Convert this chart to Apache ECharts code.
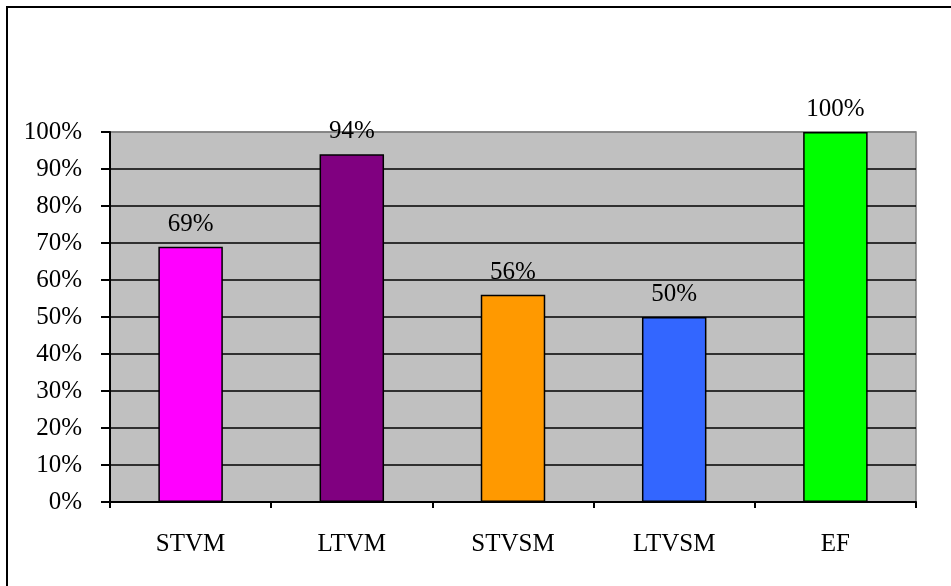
<!DOCTYPE html>
<html>
<head>
<meta charset="utf-8">
<script src="https://cdn.jsdelivr.net/npm/echarts@6/dist/echarts.min.js"></script>
<style>
  html, body { margin: 0; padding: 0; background: #fff; }
  #chart { width: 951px; height: 586px; }
</style>
</head>
<body>
<div id="chart"></div>
<script>
// Share of each method (percent)
const categories = ['STVM', 'LTVM', 'STVSM', 'LTVSM', 'EF'];
const values = [69, 94, 56, 50, 100];
const barColors = ['#FF00FF', '#800080', '#FF9900', '#3366FF', '#00FF00'];
const yTicks = { min: 0, max: 100, interval: 10 };

const font = "'Liberation Serif', 'Times New Roman', Times, serif";

// grid lines: black, except the top one which blends into the grey plot border
const splitColors = [];
for (let v = yTicks.min; v <= yTicks.max; v += yTicks.interval) {
  splitColors.push(v === yTicks.max ? '#808080' : '#000000');
}

const chart = echarts.init(document.getElementById('chart'), null, { renderer: 'canvas' });
chart.setOption({
  animation: false,
  backgroundColor: '#ffffff',
  graphic: [{
    type: 'rect',
    shape: { x: 7, y: 7, width: 2000, height: 2000 },
    style: { fill: 'none', stroke: '#000', lineWidth: 2 },
    silent: true,
    z: 100
  }],
  grid: {
    left: 110, right: 35, top: 132, bottom: 84,
    show: true,
    backgroundColor: '#C0C0C0',
    borderColor: '#808080',
    borderWidth: 1.5
  },
  xAxis: {
    type: 'category',
    data: categories,
    axisLine: { lineStyle: { color: '#000', width: 2 } },
    axisTick: { show: true, length: 6, alignWithLabel: false, lineStyle: { color: '#000', width: 2 } },
    axisLabel: { color: '#000', fontFamily: font, fontSize: 25, margin: 30 }
  },
  yAxis: {
    type: 'value',
    min: yTicks.min, max: yTicks.max, interval: yTicks.interval,
    axisLine: { show: true, lineStyle: { color: '#000', width: 2 } },
    axisTick: { show: true, length: 9, lineStyle: { color: '#000', width: 2 } },
    axisLabel: { color: '#000', fontFamily: font, fontSize: 25, margin: 28, formatter: '{value}%' },
    splitLine: { show: true, lineStyle: { color: splitColors, width: 1.5 } }
  },
  series: [{
    type: 'bar',
    data: values.map((v, i) => ({ value: v, itemStyle: { color: barColors[i] } })),
    barWidth: '40%',
    itemStyle: { borderColor: '#000', borderWidth: 1.5 },
    label: {
      show: true,
      position: 'top',
      distance: 10,
      formatter: '{c}%',
      color: '#000',
      fontFamily: font,
      fontSize: 25
    }
  }]
});
</script>
</body>
</html>
